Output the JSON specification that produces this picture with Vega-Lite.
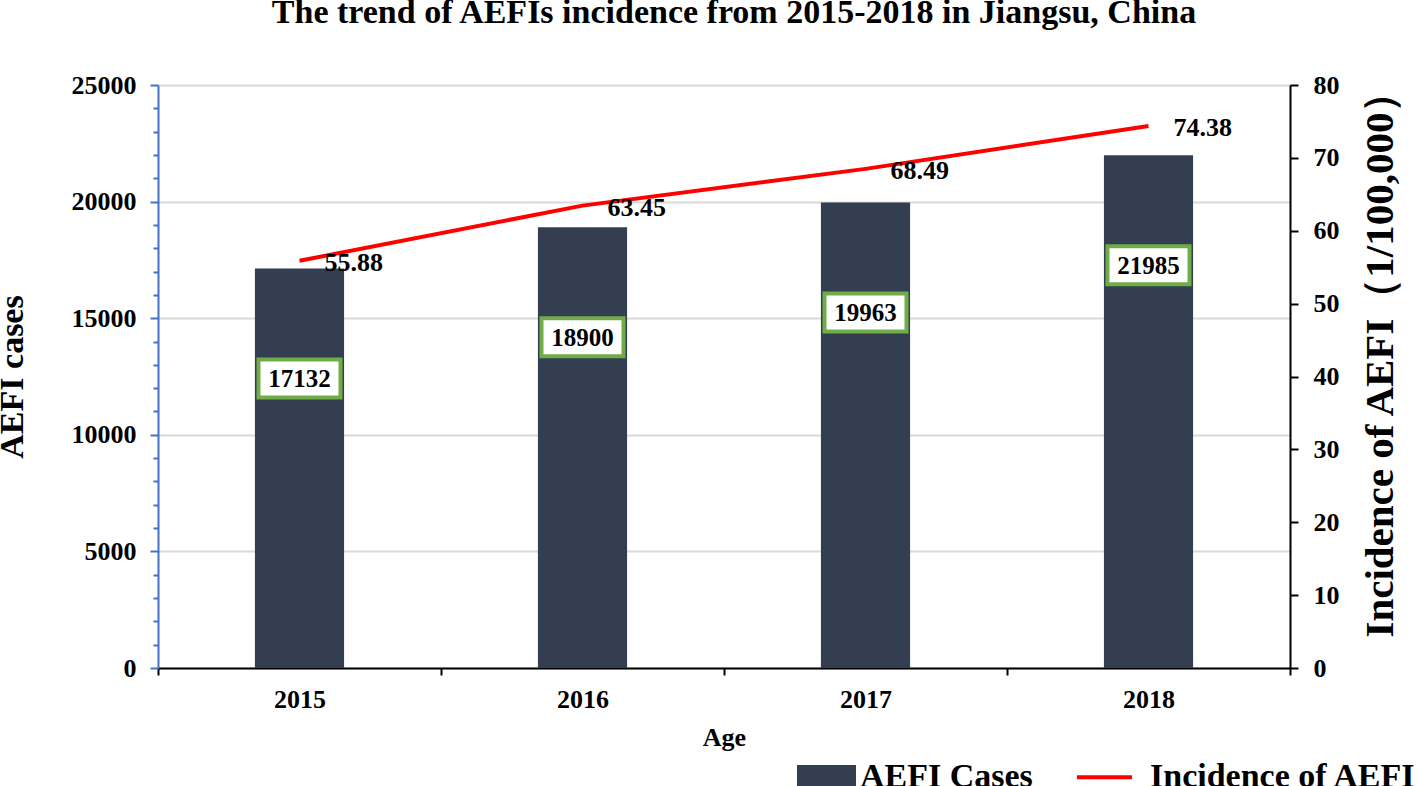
{
  "$schema": "https://vega.github.io/schema/vega-lite/v6.json",
  "width": 1132,
  "height": 583,
  "autosize": {"type": "none"},
  "padding": {"left": 158, "top": 85, "right": 128, "bottom": 118},
  "background": "white",
  "config": {"view": {"stroke": null}, "font": "Liberation Serif"},
  "title": {
    "text": "The trend of AEFIs incidence from 2015-2018 in Jiangsu, China",
    "font": "Liberation Serif",
    "fontSize": 34,
    "fontWeight": "bold",
    "color": "black",
    "anchor": "middle",
    "frame": "group",
    "dx": 10,
    "baseline": "alphabetic",
    "offset": 14
  },
  "data": {
    "values": [
      {"year": "2015", "cases": 17132, "incidence": 55.88},
      {"year": "2016", "cases": 18900, "incidence": 63.45},
      {"year": "2017", "cases": 19963, "incidence": 68.49},
      {"year": "2018", "cases": 21985, "incidence": 74.38}
    ]
  },
  "encoding": {
    "x": {
      "field": "year",
      "type": "nominal",
      "scale": {"paddingInner": 0, "paddingOuter": 0},
      "axis": {
        "title": "Age",
        "labelAngle": 0,
        "tickBand": "extent",
        "ticks": true,
        "tickSize": 7,
        "tickWidth": 2,
        "tickColor": "black",
        "domainColor": "black",
        "domainWidth": 2,
        "grid": false,
        "labelFont": "Liberation Serif",
        "labelFontSize": 26,
        "labelFontWeight": "bold",
        "labelColor": "black",
        "labelPadding": 11,
        "titleFont": "Liberation Serif",
        "titleFontSize": 26,
        "titleFontWeight": "bold",
        "titleColor": "black",
        "titlePadding": 12
      }
    }
  },
  "layer": [
    {
      "layer": [
        {
          "mark": {"type": "bar", "width": {"band": 0.315}},
          "encoding": {
            "y": {
              "field": "cases",
              "type": "quantitative",
              "scale": {"domain": [0, 25000], "nice": false},
              "axis": {
                "title": "AEFI cases",
                "values": [0,1000,2000,3000,4000,5000,6000,7000,8000,9000,10000,11000,12000,13000,14000,15000,16000,17000,18000,19000,20000,21000,22000,23000,24000,25000],
                "tickCount": 30,
                "format": "d",
                "labelExpr": "datum.value % 5000 === 0 ? datum.label : ''",
                "labelOverlap": false,
                "labelFont": "Liberation Serif",
                "labelFontSize": 26,
                "labelFontWeight": "bold",
                "labelColor": "black",
                "labelPadding": 14,
                "domainColor": "#4472C4",
                "domainWidth": 2,
                "tickColor": "#4472C4",
                "tickWidth": 2,
                "tickSize": {"condition": {"test": "datum.value % 5000 === 0", "value": 8}, "value": 5},
                "grid": true,
                "gridColor": "#D9D9D9",
                "gridWidth": 2,
                "gridOpacity": {"condition": {"test": "datum.value % 5000 === 0", "value": 1}, "value": 0},
                "titleFont": "Liberation Serif",
                "titleFontSize": 34,
                "titleFontWeight": "bold",
                "titleColor": "black",
                "titlePadding": 42
              }
            },
            "color": {
              "datum": "AEFI Cases",
              "type": "nominal",
              "scale": {"domain": ["AEFI Cases", "Incidence of AEFI"], "range": ["#333F50", "#FF0000"]},
              "legend": {
                "orient": "none",
                "legendX": 639,
                "legendY": 662,
                "direction": "horizontal",
                "title": null,
                "padding": 0,
                "labelFont": "Liberation Serif",
                "labelFontSize": 34,
                "labelFontWeight": "bold",
                "labelColor": "black",
                "labelLimit": 500,
                "labelOffset": 4,
                "columnPadding": 36,
                "symbolSize": 3025,
                "symbolStrokeWidth": 4,
                "encode": {
                  "symbols": {
                    "update": {
                      "shape": {"signal": "datum.value === 'AEFI Cases' ? 'M-1,-0.36H1V0.36H-1Z' : 'stroke'"},
                      "fill": {"signal": "datum.value === 'AEFI Cases' ? '#333F50' : 'transparent'"},
                      "stroke": {"signal": "datum.value === 'AEFI Cases' ? 'transparent' : '#FF0000'"},
                      "strokeWidth": {"value": 4},
                      "opacity": {"value": 1}
                    }
                  },
                  "labels": {
                    "update": {
                      "dx": {"signal": "datum.value === 'AEFI Cases' ? 0 : 12"}
                    }
                  }
                }
              }
            }
          }
        },
        {
          "mark": {
            "type": "point",
            "shape": "M-1,-0.463H1V0.463H-1Z",
            "size": 6724,
            "filled": true,
            "fill": "white",
            "stroke": "#70AD47",
            "strokeWidth": 4,
            "opacity": 1,
            "fillOpacity": 1,
            "strokeOpacity": 1,
            "yOffset": 110
          },
          "encoding": {
            "y": {"field": "cases", "type": "quantitative"}
          }
        },
        {
          "mark": {
            "type": "text",
            "font": "Liberation Serif",
            "fontSize": 25,
            "fontWeight": "bold",
            "color": "black",
            "baseline": "middle",
            "yOffset": 111
          },
          "encoding": {
            "y": {"field": "cases", "type": "quantitative"},
            "text": {"field": "cases", "type": "quantitative", "format": "d"}
          }
        }
      ]
    },
    {
      "layer": [
        {
          "mark": {"type": "line", "strokeWidth": 4},
          "encoding": {
            "y": {
              "field": "incidence",
              "type": "quantitative",
              "scale": {"domain": [0, 80], "nice": false},
              "axis": {
                "orient": "right",
                "title": "Incidence of AEFI（1/100,000）",
                "values": [0, 10, 20, 30, 40, 50, 60, 70, 80],
                "labelFont": "Liberation Serif",
                "labelFontSize": 26,
                "labelFontWeight": "bold",
                "labelColor": "black",
                "labelPadding": 15,
                "tickSize": 8,
                "tickWidth": 2,
                "tickColor": "black",
                "domainColor": "black",
                "domainWidth": 2,
                "grid": false,
                "titleAngle": 270,
                "titleAlign": "right",
                "titleY": -14,
                "titleFont": "Liberation Serif",
                "titleFontSize": 41,
                "titleFontWeight": "bold",
                "titleColor": "black",
                "titlePadding": 62
              }
            },
            "color": {"datum": "Incidence of AEFI", "type": "nominal"}
          }
        },
        {
          "mark": {
            "type": "text",
            "font": "Liberation Serif",
            "fontSize": 26,
            "fontWeight": "bold",
            "color": "black",
            "align": "left",
            "baseline": "middle",
            "dx": 25,
            "dy": 2
          },
          "encoding": {
            "y": {"field": "incidence", "type": "quantitative"},
            "text": {"field": "incidence", "type": "quantitative", "format": ".2f"}
          }
        }
      ]
    }
  ],
  "resolve": {"scale": {"y": "independent"}}
}
